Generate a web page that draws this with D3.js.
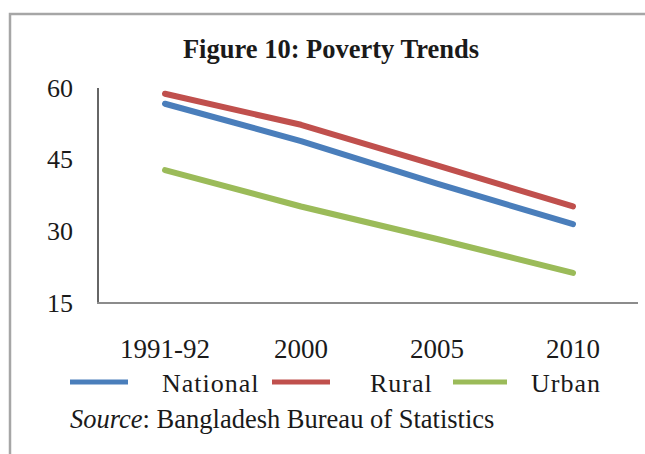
<!DOCTYPE html>
<html>
<head>
<meta charset="utf-8">
<script src="https://cdn.jsdelivr.net/npm/d3@7/dist/d3.min.js"></script>
<style>
  html, body { margin: 0; padding: 0; background: #fff; }
  svg { display: block; }
  text { font-family: "Liberation Serif", "Times New Roman", serif; fill: #1a1a1a; }
</style>
</head>
<body>
<svg id="chart" width="645" height="454"></svg>
<script>
// Poverty headcount rates (%) by survey year
const categories = ["1991-92", "2000", "2005", "2010"];
const national = [56.7, 48.9, 40.0, 31.5];
const rural = [58.8, 52.3, 43.8, 35.2];
const urban = [42.8, 35.2, 28.4, 21.3];
const yTicks = [15, 30, 45, 60];
const seriesNames = ["National", "Rural", "Urban"];
const seriesColors = ["#4a7ebb", "#c0504d", "#9bbb59"];

const series = [national, rural, urban].map((values, i) => ({
  name: seriesNames[i],
  color: seriesColors[i],
  values
}));

const svg = d3.select("#chart");

// frame
svg.append("path")
  .attr("d", "M10,454 V14 H645")
  .attr("fill", "none")
  .attr("stroke", "#a6a6a6")
  .attr("stroke-width", 2.5);

// title
svg.append("text")
  .attr("x", 331).attr("y", 58)
  .attr("text-anchor", "middle")
  .attr("font-size", 26.5)
  .attr("font-weight", "bold")
  .text("Figure 10: Poverty Trends");

const y = d3.scaleLinear().domain([15, 60]).range([303, 88]);
const x = d3.scalePoint().domain(categories).range([165, 573]);

// y axis line and tick labels
svg.append("line")
  .attr("x1", 98).attr("x2", 98)
  .attr("y1", y(60)).attr("y2", y(15))
  .attr("stroke", "#333").attr("stroke-width", 1.5);

svg.selectAll(".ytick")
  .data(yTicks)
  .join("text")
  .attr("class", "ytick")
  .attr("x", 73)
  .attr("y", d => y(d))
  .attr("dy", "0.33em")
  .attr("text-anchor", "end")
  .attr("font-size", 26)
  .text(d => d);

// x axis line and category labels
svg.append("line")
  .attr("x1", 97).attr("x2", 638)
  .attr("y1", y(15)).attr("y2", y(15))
  .attr("stroke", "#8c8c8c").attr("stroke-width", 2);

svg.selectAll(".xtick")
  .data(categories)
  .join("text")
  .attr("class", "xtick")
  .attr("x", d => x(d))
  .attr("y", 358)
  .attr("text-anchor", "middle")
  .attr("font-size", 27)
  .text(d => d);

// legend
const legendX = [70, 272, 453];
const legend = svg.selectAll(".legend")
  .data(series)
  .join("g")
  .attr("class", "legend")
  .attr("transform", (d, i) => `translate(${legendX[i]},382)`);

legend.append("line")
  .attr("x1", 0).attr("x2", (d, i) => i === 2 ? 54 : 58)
  .attr("stroke", d => d.color)
  .attr("stroke-width", 5);

legend.append("text")
  .attr("x", (d, i) => [92, 98, 78][i])
  .attr("y", 10)
  .attr("font-size", 26)
  .attr("letter-spacing", 1)
  .text(d => d.name);

// series lines
const line = d3.line()
  .x((d, i) => x(categories[i]))
  .y(d => y(d));

svg.selectAll(".series")
  .data(series)
  .join("path")
  .attr("class", "series")
  .attr("d", d => line(d.values))
  .attr("fill", "none")
  .attr("stroke", d => d.color)
  .attr("stroke-width", 6)
  .attr("stroke-linecap", "round")
  .attr("stroke-linejoin", "round");

// source note
const src = svg.append("text")
  .attr("x", 70).attr("y", 428)
  .attr("font-size", 26.5);
src.append("tspan").attr("font-style", "italic").text("Source");
src.append("tspan").text(": Bangladesh Bureau of Statistics");
</script>
</body>
</html>
